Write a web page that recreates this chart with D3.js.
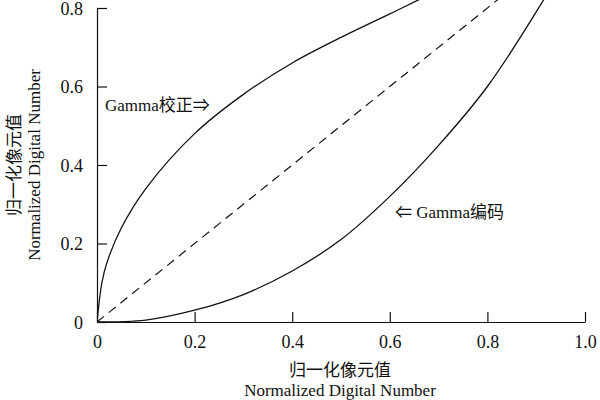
<!DOCTYPE html><html><head><meta charset="utf-8"><script src="https://d3js.org/d3.v7.min.js"></script>
<style>body{margin:0;background:#fff}text{font-family:"Liberation Serif","Noto Sans CJK SC",serif;fill:#111}</style></head><body>
<script>
const xTicks=[0,0.2,0.4,0.6,0.8,1.0];
const xTickLabels=["0","0.2","0.4","0.6","0.8","1.0"];
const yTicks=[0,0.2,0.4,0.6,0.8];
const yTickLabels=["0","0.2","0.4","0.6","0.8"];
const corrX=[0,0.01,0.02,0.05,0.1,0.2,0.3,0.4,0.5,0.6,0.7,0.8];
const corrY=[0,0.1,0.15,0.24,0.34,0.48,0.58,0.66,0.725,0.785,0.845,0.9];
const encX=[0,0.1,0.2,0.3,0.4,0.5,0.6,0.7,0.8,0.9,1.0];
const encY=[0,0.005,0.03,0.07,0.13,0.21,0.32,0.45,0.6,0.79,1.0];
const diagX=[0,1];const diagY=[0,1];
const W=600,H=400;
const svg=d3.select("body").append("svg").attr("width",W).attr("height",H);
const x=d3.scaleLinear().domain([0,1]).range([97,585]);
const y=d3.scaleLinear().domain([0,0.8]).range([322,8]);
svg.append("defs").append("clipPath").attr("id","c").append("rect").attr("x",97).attr("y",0).attr("width",490).attr("height",322);
const line=d3.line().x(d=>x(d[0])).y(d=>y(d[1])).curve(d3.curveCatmullRom.alpha(0.5));
const g=svg.append("g").attr("clip-path","url(#c)");
g.append("path").attr("d",line(corrX.map((v,i)=>[v,corrY[i]]))).attr("fill","none").attr("stroke","#111").attr("stroke-width",1.3);
g.append("path").attr("d",line(encX.map((v,i)=>[v,encY[i]]))).attr("fill","none").attr("stroke","#111").attr("stroke-width",1.3);
g.append("path").attr("d",line(diagX.map((v,i)=>[v,diagY[i]]))).attr("fill","none").attr("stroke","#111").attr("stroke-width",1.2).attr("stroke-dasharray","9,6");
const xa=svg.append("g").attr("transform","translate(0,322)").call(d3.axisTop(x).tickValues(xTicks).tickFormat((d,i)=>xTickLabels[i]).tickSize(10).tickSizeOuter(0));
xa.selectAll("text").attr("y",26).style("font-size","18px");
const ya=svg.append("g").attr("transform","translate(97,0)").call(d3.axisRight(y).tickValues(yTicks).tickFormat((d,i)=>yTickLabels[i]).tickSize(10).tickSizeOuter(0));
ya.selectAll("text").attr("x",-14).attr("text-anchor","end").attr("dy","0.35em").style("font-size","18px");
svg.selectAll(".domain,.tick line").attr("stroke","#111").attr("stroke-width",1.2);
svg.selectAll(".tick text").style("font-family","Liberation Serif").attr("fill","#111");
svg.append("text").attr("x",105).attr("y",111).style("font-size","17px").text("Gamma校正⇒");
svg.append("text").attr("x",395).attr("y",218).style("font-size","17px").text("⇐ Gamma编码");
svg.append("text").attr("x",340).attr("y",376).attr("text-anchor","middle").style("font-size","17px").text("归一化像元值");
svg.append("text").attr("x",340).attr("y",396).attr("text-anchor","middle").style("font-size","17px").text("Normalized Digital Number");
svg.append("text").attr("transform","translate(20,165) rotate(-90)").attr("text-anchor","middle").style("font-size","17px").text("归一化像元值");
svg.append("text").attr("transform","translate(40,165) rotate(-90)").attr("text-anchor","middle").style("font-size","17px").text("Normalized Digital Number");
</script></body></html>
